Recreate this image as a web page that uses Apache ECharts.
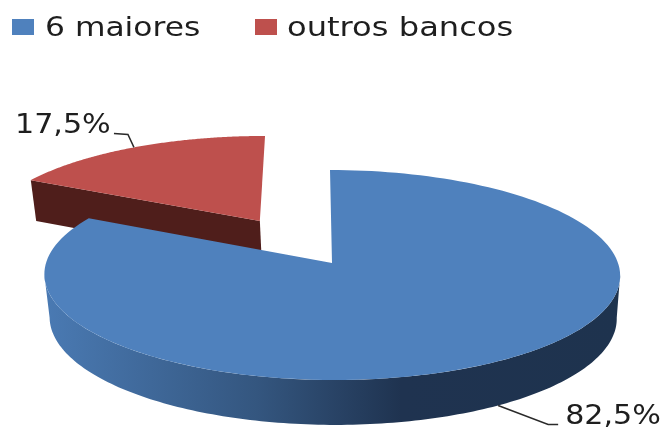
<!DOCTYPE html>
<html>
<head>
<meta charset="utf-8">
<style>html,body{margin:0;padding:0;background:#fff}#chart{width:664px;height:428px}</style>
<script src="https://cdn.jsdelivr.net/npm/echarts@6/dist/echarts.min.js"></script>
</head>
<body>
<div id="chart"></div>
<script>
// Share of the banking sector: six largest banks against the rest.
const categories = ['6 maiores', 'outros bancos'];
const values = [82.5, 17.5];
const faceColors = ['#4F81BD', '#BE504D'];
const edgeColor = '#4F1E1B';
const textColor = '#1E1E1E';

// Tilted-disc projection of the pie.
const view = {
  cx: 332, cy: 263, rx: 286, ry: 103.6, depth: 0.1143, shear: 0.0215,
  wallDrop: 42.6, wallScaleX: 0.985, wallScaleY: 1.02
};
const explodeAmount = 0.5;

// Key placement: swatch left edge, text left edge and text widening per entry.
const legendSwatchX = [12, 255];
const legendTextX = [45, 287];
const legendTextStretch = [1.16, 1.19];

function project(u, v, onFloor) {
  const d = 1 + view.depth * v;
  const sx = onFloor ? view.wallScaleX : 1;
  const sy = onFloor ? view.wallScaleY : 1;
  const y = view.cy + (onFloor ? view.wallDrop : 0) - view.ry * sy * v / d;
  const x = view.cx + view.rx * sx * u / d + view.shear * (y - view.cy);
  return [x, y];
}

function polar(theta, offset, radius, onFloor) {
  const r = radius === undefined ? 1 : radius;
  return project(r * Math.sin(theta) + offset[0], r * Math.cos(theta) + offset[1], onFloor);
}

function arc(from, to, offset, onFloor) {
  const pts = [];
  const n = 160;
  for (let i = 0; i <= n; i++) {
    pts.push(polar(from + (to - from) * i / n, offset, 1, onFloor));
  }
  return pts;
}

const total = values.reduce((a, b) => a + b, 0);
const TAU = Math.PI * 2;
const splitAngle = TAU * values[0] / total;
const silhouette = Math.acos(-view.depth);

function sliceShapes(index) {
  const start = index === 0 ? 0 : splitAngle;
  const end = index === 0 ? splitAngle : TAU;
  const mid = (start + end) / 2;
  const offset = index === 0 ? [0, 0]
    : [explodeAmount * Math.sin(mid), explodeAmount * Math.cos(mid)];
  const apex = project(offset[0], offset[1], false);
  const children = [];

  if (index === 0) {
    // Curved outer wall of the large slice, shaded from left to right.
    const a = silhouette, b = TAU - silhouette;
    const wall = arc(a, b, offset, false).concat(arc(a, b, offset, true).reverse());
    children.push({
      type: 'polygon', shape: { points: wall },
      style: {
        fill: new echarts.graphic.LinearGradient(0, 0, 1, 0, [
          { offset: 0, color: '#4A7AB3' },
          { offset: 0.37, color: '#34567F' },
          { offset: 0.62, color: '#1F3350' },
          { offset: 1, color: '#1E334E' }
        ])
      }
    });
  } else {
    // Cut face of the pulled-out slice.
    const edgeTop = polar(start, offset, 1, false);
    const edgeBottom = polar(start, offset, 1, true);
    const apexBottom = project(offset[0], offset[1], true);
    children.push({
      type: 'polygon', shape: { points: [edgeTop, apex, apexBottom, edgeBottom] },
      style: { fill: edgeColor }
    });
  }

  children.push({
    type: 'polygon',
    shape: { points: [apex].concat(arc(start, end, offset, false)) },
    style: { fill: faceColors[index] }
  });

  // Leader line and percentage label.
  const anchor = polar(mid, offset, 1, index === 0);
  const leader = index === 0
    ? [anchor, [anchor[0] + 50, anchor[1] + 19], [anchor[0] + 60, anchor[1] + 19]]
    : [anchor, [anchor[0] - 6, anchor[1] - 13], [anchor[0] - 20, anchor[1] - 14]];
  children.push({
    type: 'polyline', shape: { points: leader },
    style: { fill: null, stroke: '#2A2A2A', lineWidth: 1.5 }
  });
  const text = values[index].toFixed(1).replace('.', ',') + '%';
  children.push({
    type: 'text',
    x: index === 0 ? anchor[0] + 67 : anchor[0] - 119,
    y: index === 0 ? anchor[1] + 12 : anchor[1] - 21,
    scaleX: 1.16,
    style: { text: text, fill: textColor, font: '26px "DejaVu Sans"', textAlign: 'left', textVerticalAlign: 'middle' }
  });
  return { type: 'group', children: children };
}

// Key at the top, with its text widened to the chart's horizontal stretch.
const legendElements = [];
categories.forEach((name, i) => {
  legendElements.push({
    type: 'rect', left: legendSwatchX[i], top: 19,
    shape: { width: 22, height: 16 },
    style: { fill: faceColors[i] }
  });
  legendElements.push({
    type: 'text', x: legendTextX[i], y: 29, scaleX: legendTextStretch[i],
    style: { text: name, fill: textColor, font: '27px "DejaVu Sans"', textAlign: 'left', textVerticalAlign: 'middle' }
  });
});

const chart = echarts.init(document.getElementById('chart'), null, { renderer: 'canvas' });
chart.setOption({
  animation: false,
  backgroundColor: '#ffffff',
  graphic: { elements: legendElements },
  // The small slice is drawn first so the large one overlaps its lower edge.
  series: [1, 0].map(i => ({
    type: 'custom',
    name: categories[i],
    coordinateSystem: 'none',
    silent: true,
    itemStyle: { color: faceColors[i] },
    data: [values[i]],
    renderItem: () => sliceShapes(i)
  }))
});
</script>
</body>
</html>
